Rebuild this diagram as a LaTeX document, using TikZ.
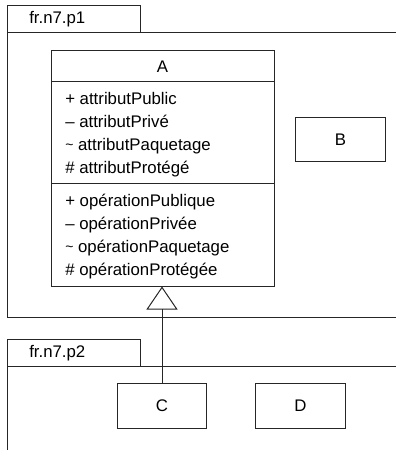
\documentclass[tikz,border=0pt]{standalone}
\usepackage{fontspec}
\setmainfont{Liberation Sans}
\usetikzlibrary{arrows.meta}
\newcommand{\smalltilde}{\raisebox{0.05em}{\fontsize{10.5}{12}\selectfont\textasciitilde}}
\begin{document}
\begin{tikzpicture}[x=0.75pt,y=-0.75pt,
  every node/.style={font=\fontsize{12.6}{15}\selectfont, inner sep=0pt},
  ln/.style={line width=0.75pt, draw=black!85},
  classbox/.style={ln, draw, rectangle, minimum width=67pt, minimum height=33.5pt},
  member/.style={anchor=base west},
  inherit/.style={ln, -{Triangle[open, length=17.25pt, width=23.25pt, line width=0.75pt]}}
]
\useasboundingbox (0,0) rectangle (396,450);
% package p1
\draw[ln] (7,5) rectangle (140,32);
\node[anchor=base west] (p1) at (29,23.5) {fr.n7.p1};
\draw[ln] (396,32) -- (7,32) -- (7,317) -- (396,317);
% package p2
\draw[ln] (7,339) rectangle (140,366);
\node[anchor=base west] (p2) at (29,357.5) {fr.n7.p2};
\draw[ln] (396,366) -- (7,366) -- (7,450);
% class A
\node[ln, draw, rectangle, minimum width=167.25pt, minimum height=177pt] (A) at (162.5,168) {};
\draw[ln] (51,81) -- (274,81);
\draw[ln] (51,183) -- (274,183);
\node[anchor=base] (Aname) at (162.5,72) {A};
\node[member] (a1) at (65,104.5) {+ attributPublic};
\node[member] (a2) at (65,127.5) {– attributPrivé};
\node[member] (a3) at (65,150.5) {\smalltilde\ attributPaquetage};
\node[member] (a4) at (65,173.5) {\# attributProtégé};
\node[member] (o1) at (65,206) {+ opérationPublique};
\node[member] (o2) at (65,229) {– opérationPrivée};
\node[member] (o3) at (65,252) {\smalltilde\ opérationPaquetage};
\node[member] (o4) at (65,275) {\# opérationProtégée};
% other classes
\node[classbox] (B) at (340.5,139.5) {B};
\node[classbox] (C) at (162,406) {C};
\node[classbox] (D) at (300.5,406) {D};
% generalisation
\draw[inherit] (C.north) -- (C.north |- A.south);
\end{tikzpicture}
\end{document}
